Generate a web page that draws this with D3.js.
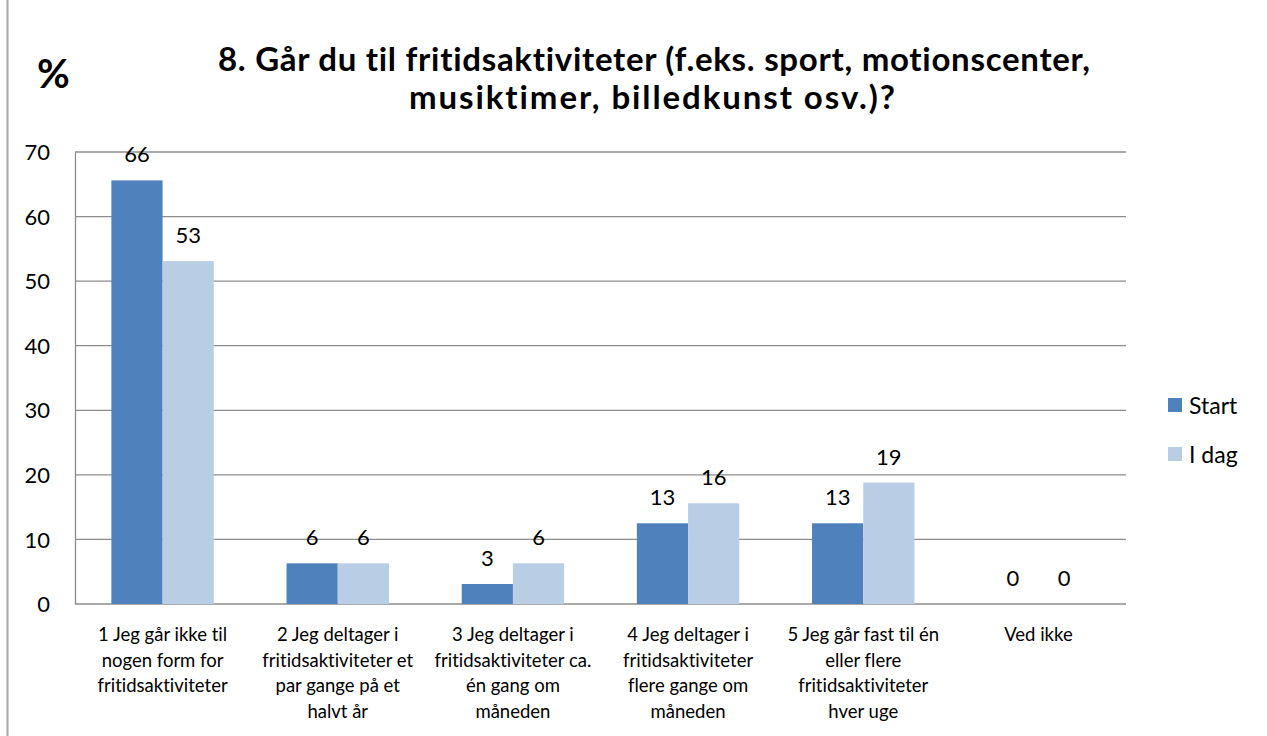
<!DOCTYPE html>
<html>
<head>
<meta charset="utf-8">
<script src="https://cdn.jsdelivr.net/npm/d3@7"></script>
<style>
  body { margin: 0; background: #fff; }
  text { font-family: Lato, "Open Sans", sans-serif; fill: #000; font-variant-ligatures: none; }
</style>
</head>
<body>
<div class="chart"></div>
<script>
// Chart data
var categories = [
  "1 Jeg går ikke til|nogen form for|fritidsaktiviteter",
  "2 Jeg deltager i|fritidsaktiviteter et|par gange på et|halvt år",
  "3 Jeg deltager i|fritidsaktiviteter ca.|én gang om|måneden",
  "4 Jeg deltager i|fritidsaktiviteter|flere gange om|måneden",
  "5 Jeg går fast til én|eller flere|fritidsaktiviteter|hver uge",
  "Ved ikke"
];
var seriesNames = ["Start", "I dag"];
var startValues = [65.6, 6.3, 3.1, 12.5, 12.5, 0];
var idagValues = [53.1, 6.3, 6.3, 15.6, 18.8, 0];
var yTicks = [0, 10, 20, 30, 40, 50, 60, 70];
var colors = ["#4f81bd", "#b9cde5"];

var svgWidth = 1267;
var svgHeight = 736;

var margin = { top: 152, right: 141, bottom: 132, left: 75 };
var width = svgWidth - margin.left - margin.right;
var height = svgHeight - margin.top - margin.bottom;

var svg = d3.select(".chart")
  .append("svg")
  .attr("width", svgWidth)
  .attr("height", svgHeight);

// left frame line
svg.append("line")
  .attr("x1", 7.5).attr("x2", 7.5)
  .attr("y1", 0).attr("y2", svgHeight)
  .attr("stroke", "#a6a6a6")
  .attr("stroke-width", 2);

var chartGroup = svg.append("g")
  .attr("transform", `translate(${margin.left}, ${margin.top})`);

var xScale = d3.scaleBand()
  .domain(d3.range(categories.length))
  .range([0, width])
  .paddingInner(0)
  .paddingOuter(0);

var xInner = d3.scaleBand()
  .domain(seriesNames)
  .range([0, xScale.bandwidth()])
  .paddingOuter(0.71)
  .paddingInner(0);

var yScale = d3.scaleLinear()
  .domain([0, 70])
  .range([height, 0]);

// gridlines
chartGroup.append("g")
  .selectAll("line")
  .data(yTicks)
  .enter()
  .append("line")
  .attr("x1", 0)
  .attr("x2", width)
  .attr("y1", d => yScale(d))
  .attr("y2", d => yScale(d))
  .attr("stroke", "#8c8c8c")
  .attr("stroke-width", 1.3);

// y axis
var leftAxis = d3.axisLeft(yScale).tickValues(yTicks).tickSize(0).tickPadding(25);
var yAxis = chartGroup.append("g").call(leftAxis);
yAxis.select(".domain").attr("stroke", "#8c8c8c").attr("stroke-width", 1.3);
yAxis.selectAll("text")
  .style("font-family", "Lato, 'Open Sans', sans-serif")
  .style("font-size", "22px")
  .attr("dy", "0.35em");

// bars
var series = seriesNames.map((name, i) => ({
  name: name,
  values: i === 0 ? startValues : idagValues
}));

series.forEach((s, i) => {
  var g = chartGroup.append("g");
  g.selectAll("rect")
    .data(s.values)
    .enter()
    .append("rect")
    .attr("x", (d, j) => xScale(j) + xInner(s.name))
    .attr("y", d => yScale(d))
    .attr("width", xInner.bandwidth())
    .attr("height", d => height - yScale(d))
    .attr("fill", colors[i]);

  g.selectAll("text")
    .data(s.values)
    .enter()
    .append("text")
    .attr("x", (d, j) => xScale(j) + xInner(s.name) + xInner.bandwidth() / 2)
    .attr("y", d => yScale(d) - 18)
    .attr("text-anchor", "middle")
    .style("font-size", "22px")
    .text(d => Math.round(d));
});

// category labels
categories.forEach((c, j) => {
  var t = chartGroup.append("text")
    .attr("x", xScale(j) + xScale.bandwidth() / 2)
    .attr("y", height + 37)
    .attr("text-anchor", "middle")
    .style("font-size", "18.5px");
  c.split("|").forEach((line, k) => {
    t.append("tspan")
      .attr("x", xScale(j) + xScale.bandwidth() / 2)
      .attr("dy", k === 0 ? 0 : 25.5)
      .text(line);
  });
});

// title
var title = svg.append("text")
  .attr("x", 654)
  .attr("y", 71)
  .attr("text-anchor", "middle")
  .style("font-size", "33px")
  .style("font-weight", "bold");
title.append("tspan").attr("x", 654)
  .attr("textLength", 872)
  .text("8. Går du til fritidsaktiviteter (f.eks. sport, motionscenter,");
title.append("tspan").attr("x", 652).attr("dy", 38)
  .attr("textLength", 486)
  .text("musiktimer, billedkunst osv.)?");

svg.append("text")
  .attr("x", 37)
  .attr("y", 88)
  .style("font-size", "40px")
  .style("font-weight", "bold")
  .text("%");

// legend
var legend = svg.append("g")
  .attr("transform", "translate(1168, 398)");

seriesNames.forEach((name, i) => {
  legend.append("rect")
    .attr("x", 0)
    .attr("y", i * 49)
    .attr("width", 14)
    .attr("height", 14)
    .attr("fill", colors[i]);
  legend.append("text")
    .attr("x", 21)
    .attr("y", i * 49 + 16)
    .style("font-size", "23px")
    .text(name);
});
</script>
</body>
</html>
